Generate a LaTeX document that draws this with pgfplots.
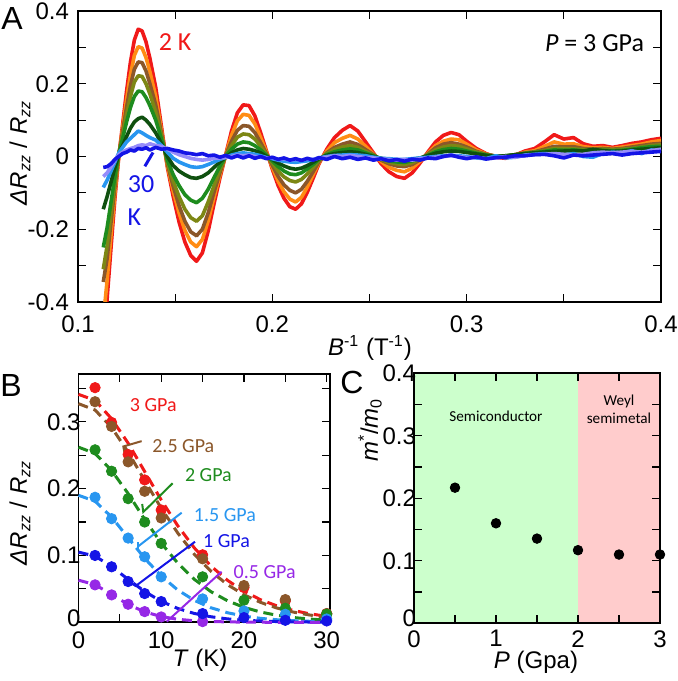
\documentclass[border=0pt]{standalone}
\usepackage{fontspec}
\setmainfont{Liberation Sans}
\newfontfamily\calfont{Carlito}
\usepackage{pgfplots}
\usepackage{pgfplotstable}
\pgfplotsset{compat=1.18}

\definecolor{cR}{RGB}{240,25,25}
\definecolor{cO}{RGB}{255,140,20}
\definecolor{cBr}{RGB}{139,87,42}
\definecolor{cOl}{RGB}{125,135,20}
\definecolor{cG}{RGB}{30,140,30}
\definecolor{cDG}{RGB}{15,80,15}
\definecolor{cLB}{RGB}{40,150,240}
\definecolor{cLv}{RGB}{150,140,250}
\definecolor{cBl}{RGB}{20,20,230}
\definecolor{cPu}{RGB}{150,40,230}
\definecolor{fillG}{RGB}{204,255,204}
\definecolor{fillR}{RGB}{255,204,204}

\pgfplotstableread{
x R O Br Ol G DG LB Lv Bl
0.113 -0.52 -0.45 -0.345 -0.31 -0.25 -0.145 -0.085 -0.055 -0.030
0.115 -0.39 -0.34 -0.28 -0.245 -0.195 -0.11 -0.065 -0.045 -0.028
0.117 -0.25 -0.215 -0.18 -0.155 -0.125 -0.07 -0.04 -0.028 -0.020
0.119 -0.115 -0.10 -0.083 -0.07 -0.055 -0.03 -0.015 -0.01 -0.008
0.121 0.00 0.002 0.004 0.006 0.008 0.006 0.01 0.005 0.000
0.123 0.09 0.08 0.07 0.06 0.05 0.03 0.025 0.012 0.008
0.125 0.18 0.157 0.135 0.115 0.095 0.055 0.04 0.018 0.012
0.127 0.26 0.225 0.195 0.165 0.135 0.078 0.05 0.022 0.018
0.129 0.32 0.278 0.24 0.205 0.165 0.095 0.06 0.025 0.015
0.131 0.350 0.302 0.26 0.222 0.18 0.104 0.07 0.03 0.022
0.133 0.345 0.298 0.258 0.22 0.178 0.108 0.065 0.032 0.02
0.135 0.315 0.272 0.235 0.2 0.162 0.1 0.058 0.03 0.024
0.137 0.27 0.233 0.2 0.172 0.14 0.088 0.052 0.035 0.018
0.140 0.19 0.165 0.142 0.122 0.1 0.065 0.045 0.03 0.025
0.143 0.08 0.07 0.062 0.055 0.047 0.035 0.03 0.028 0.02
0.146 -0.03 -0.026 -0.02 -0.015 -0.01 0.0 0.012 0.02 0.022
0.149 -0.11 -0.095 -0.082 -0.068 -0.05 -0.025 -0.005 0.012 0.018
0.152 -0.18 -0.155 -0.135 -0.11 -0.08 -0.04 -0.015 0.005 0.015
0.155 -0.235 -0.203 -0.178 -0.145 -0.105 -0.05 -0.022 0.0 0.01
0.158 -0.272 -0.235 -0.207 -0.168 -0.12 -0.058 -0.028 -0.005 0.008
0.161 -0.288 -0.248 -0.218 -0.178 -0.127 -0.06 -0.03 -0.008 0.005
0.164 -0.265 -0.228 -0.2 -0.163 -0.115 -0.055 -0.028 -0.01 0.008
0.167 -0.205 -0.177 -0.155 -0.125 -0.09 -0.045 -0.022 -0.008 0.002
0.170 -0.13 -0.112 -0.098 -0.08 -0.058 -0.03 -0.015 -0.005 0.004
0.173 -0.06 -0.052 -0.045 -0.037 -0.027 -0.015 -0.008 -0.004 -0.002
0.176 0.005 0.004 0.003 0.002 0.001 -0.002 -0.002 -0.003 0.003
0.179 0.07 0.058 0.042 0.03 0.02 0.01 0.004 0.0 -0.004
0.182 0.12 0.098 0.072 0.053 0.034 0.018 0.008 0.004 0.002
0.185 0.142 0.116 0.085 0.062 0.04 0.022 0.01 0.002 -0.004
0.188 0.140 0.113 0.083 0.06 0.038 0.02 0.008 0.004 0.002
0.191 0.112 0.09 0.066 0.048 0.03 0.016 0.006 0.0 -0.005
0.194 0.065 0.052 0.038 0.028 0.018 0.01 0.002 -0.002 0.0
0.197 0.015 0.012 0.008 0.005 0.003 0.0 -0.003 -0.004 -0.006
0.200 -0.035 -0.03 -0.024 -0.018 -0.012 -0.008 -0.006 -0.003 -0.002
0.203 -0.08 -0.068 -0.055 -0.04 -0.028 -0.018 -0.01 -0.008 -0.008
0.206 -0.115 -0.097 -0.078 -0.056 -0.04 -0.026 -0.013 -0.006 -0.004
0.209 -0.138 -0.117 -0.093 -0.066 -0.048 -0.032 -0.015 -0.01 -0.01
0.212 -0.145 -0.125 -0.1 -0.07 -0.05 -0.035 -0.016 -0.008 -0.006
0.215 -0.13 -0.112 -0.09 -0.063 -0.045 -0.032 -0.014 -0.01 -0.011
0.218 -0.098 -0.084 -0.068 -0.048 -0.034 -0.025 -0.012 -0.006 -0.005
0.221 -0.06 -0.05 -0.042 -0.03 -0.022 -0.016 -0.008 -0.008 -0.01
0.224 -0.02 -0.017 -0.014 -0.01 -0.008 -0.006 -0.004 -0.004 -0.003
0.228 0.02 0.015 0.01 0.008 0.005 0.003 0.0 -0.002 -0.008
0.232 0.052 0.038 0.025 0.019 0.013 0.008 0.003 0.002 0.0
0.236 0.072 0.05 0.034 0.026 0.018 0.011 0.004 0.0 -0.006
0.240 0.085 0.058 0.04 0.03 0.021 0.013 0.005 0.003 -0.002
0.244 0.07 0.048 0.033 0.025 0.018 0.011 0.004 0.0 -0.008
0.248 0.04 0.028 0.019 0.014 0.01 0.006 0.002 -0.003 -0.004
0.252 0.01 0.007 0.005 0.003 0.002 0.0 -0.002 -0.004 -0.01
0.256 -0.02 -0.014 -0.01 -0.008 -0.006 -0.005 -0.005 -0.007 -0.006
0.260 -0.042 -0.03 -0.02 -0.016 -0.012 -0.008 -0.006 -0.008 -0.012
0.264 -0.055 -0.038 -0.026 -0.02 -0.015 -0.01 -0.008 -0.01 -0.008
0.268 -0.06 -0.042 -0.028 -0.022 -0.016 -0.011 -0.008 -0.008 -0.013
0.272 -0.045 -0.032 -0.022 -0.017 -0.012 -0.008 -0.006 -0.01 -0.007
0.276 -0.018 -0.013 -0.009 -0.007 -0.005 -0.004 -0.004 -0.006 -0.01
0.280 0.012 0.009 0.007 0.005 0.003 0.002 -0.002 -0.004 -0.004
0.284 0.04 0.03 0.024 0.018 0.013 0.009 0.0 -0.002 -0.006
0.288 0.058 0.042 0.034 0.026 0.019 0.013 0.002 0.0 0.0
0.292 0.066 0.048 0.038 0.03 0.022 0.015 0.003 0.002 0.004
0.296 0.06 0.046 0.034 0.028 0.02 0.014 0.002 0.0 -0.002
0.300 0.042 0.034 0.026 0.021 0.015 0.011 0.0 -0.003 -0.006
0.305 0.022 0.018 0.014 0.012 0.009 0.007 -0.004 -0.002 -0.001
0.310 0.008 0.007 0.006 0.005 0.004 0.003 -0.006 -0.006 -0.007
0.315 -0.002 0.0 0.001 0.001 0.0 0.0 0.002 -0.004 -0.003
0.320 -0.005 -0.002 0.0 0.001 0.002 0.002 -0.004 0.0 -0.002
0.325 0.004 0.004 0.005 0.005 0.004 0.005 -0.002 -0.002 0.002
0.330 0.015 0.012 0.01 0.009 0.008 0.008 0.004 0.003 0.002
0.335 0.022 0.016 0.013 0.012 0.011 0.01 0.006 0.005 0.005
0.340 0.04 0.028 0.02 0.016 0.014 0.012 0.008 0.006 0.006
0.345 0.06 0.04 0.028 0.022 0.018 0.014 0.006 0.008 0.002
0.350 0.048 0.034 0.026 0.022 0.017 0.015 0.004 0.006 -0.004
0.355 0.052 0.035 0.027 0.021 0.018 0.016 0.008 0.004 0.004
0.360 0.035 0.027 0.022 0.019 0.016 0.015 0.0 0.006 0.002
0.365 0.028 0.024 0.02 0.018 0.016 0.02 -0.002 0.01 0.004
0.370 0.03 0.025 0.022 0.02 0.017 0.016 0.008 0.012 0.006
0.375 0.025 0.022 0.02 0.018 0.016 0.014 0.012 0.01 0.008
0.380 0.03 0.026 0.022 0.02 0.017 0.015 0.01 0.012 0.004
0.385 0.036 0.03 0.026 0.022 0.02 0.018 0.016 0.014 0.008
0.390 0.04 0.034 0.03 0.026 0.024 0.02 0.008 0.012 0.01
0.395 0.046 0.04 0.034 0.03 0.027 0.022 0.018 0.016 0.012
0.400 0.05 0.044 0.036 0.032 0.028 0.024 0.014 0.02 0.014
}\dataA

\pgfplotstableread{
T R Br G LB Bl Pu
0 0.341 0.327 0.262 0.190 0.105 0.063
2 0.332 0.3176 0.2526 0.1811 0.0990 0.0563
4 0.3045 0.2915 0.2270 0.1575 0.0835 0.0417
6 0.268 0.2546 0.1926 0.1265 0.0642 0.0267
8 0.2255 0.2121 0.1538 0.0957 0.0461 0.0156
10 0.183 0.1707 0.1185 0.0693 0.0314 0.0086
12 0.1444 0.1335 0.0885 0.0483 0.0207 0.0045
14 0.1113 0.1018 0.0643 0.0328 0.0132 0.0023
16 0.0843 0.0764 0.0459 0.0218 0.0083 0.0012
18 0.0629 0.0564 0.0323 0.0143 0.0051 0.0006
20 0.0464 0.0412 0.0224 0.0093 0.0031 0.0003
22 0.0338 0.0298 0.0154 0.0059 0.0019 0.0001
24 0.0245 0.0213 0.0105 0.0038 0.0011 0.0
26 0.0176 0.0152 0.0071 0.0024 0.0007 0.0
28 0.0126 0.0108 0.0048 0.0015 0.0004 0.0
30 0.0090 0.0076 0.0032 0.0009 0.0002 0.0
}\fitB

\pgfplotsset{
  myaxis/.style={
    scale only axis,
    anchor=south west,
    tick align=inside,
    major tick length=4pt,
    minor tick length=4pt,
    tick style={black, line width=0.6pt},
    axis line style={line width=0.8pt},
    tick label style={font=\fontsize{12}{13}\selectfont},
    /pgf/number format/assume math mode=true,
  }
}

\begin{document}
\begin{tikzpicture}
\useasboundingbox (0,0) rectangle (338.5pt,340.5pt);

% ---------------- Panel A
\begin{axis}[myaxis,
  at={(39pt,189.5pt)}, width=291.5pt, height=145.5pt,
  xmin=0.1, xmax=0.4, ymin=-0.4, ymax=0.4,
  xtick={0.1,0.2,0.3,0.4}, xticklabels={0.1,0.2,0.3,0.4},
  minor xtick={0.15,0.25,0.35},
  ytick={-0.4,-0.2,0,0.2,0.4}, yticklabels={-0.4,-0.2,0,0.2,0.4},
  minor ytick={-0.3,-0.1,0.1,0.3},
  xticklabel style={yshift=-3.5pt},
  yticklabel style={xshift=-1pt},
  every axis plot/.append style={line width=1.8pt, line join=round, no markers},
]
\addplot[cR] table[x=x,y=R] {\dataA};
\addplot[cO] table[x=x,y=O] {\dataA};
\addplot[cBr] table[x=x,y=Br] {\dataA};
\addplot[cOl] table[x=x,y=Ol] {\dataA};
\addplot[cG] table[x=x,y=G] {\dataA};
\addplot[cDG] table[x=x,y=DG] {\dataA};
\addplot[cLB] table[x=x,y=LB] {\dataA};
\addplot[cLv] table[x=x,y=Lv] {\dataA};
\addplot[cBl] table[x=x,y=Bl] {\dataA};
\begin{scope}[font=\calfont\fontsize{13}{14}\selectfont]
\node[text=cR] at (axis cs:0.150,0.315) {2 K};
\node[text=cBl] at (axis cs:0.1325,-0.077) {30};
\node[text=cBl] at (axis cs:0.129,-0.167) {K};
\node at (axis cs:0.3658,0.312) {\textit{P} = 3 GPa};
\end{scope}
\draw[cBl, line width=1.5pt] (axis cs:0.1344,-0.027) -- (axis cs:0.1386,0.011);
\end{axis}

% ---------------- Panel B
\begin{axis}[myaxis,
  at={(39.25pt,29.35pt)}, width=125.75pt, height=124pt,
  xmin=0, xmax=30.4, ymin=0, ymax=0.371,
  xtick={0,10,20,30}, xticklabels={0,10,20,30},
  minor xtick={5,15,25},
  ytick={0,0.1,0.2,0.3}, yticklabels={\raisebox{4pt}{0},0.1,0.2,0.3},
  minor ytick={0.05,0.15,0.25,0.35},
  xticklabel style={yshift=-1pt},
  yticklabel style={xshift=4.5pt},
  clip=false,
  dashfit/.style={line width=1.5pt, dash pattern=on 5pt off 3pt, no markers},
  dots/.style={only marks, mark=*, mark size=2.6pt},
]
\addplot[cR, dashfit] table[x=T,y=R] {\fitB};
\addplot[cBr, dashfit] table[x=T,y=Br] {\fitB};
\addplot[cG, dashfit] table[x=T,y=G] {\fitB};
\addplot[cLB, dashfit] table[x=T,y=LB] {\fitB};
\addplot[cBl, dashfit] table[x=T,y=Bl] {\fitB};
\addplot[cPu, dashfit] table[x=T,y=Pu] {\fitB};
\addplot[cPu, dots] coordinates {(2,0.056) (4,0.041) (6,0.027) (8,0.016) (10,0.008) (15,0.001)};
\addplot[cR, dots] coordinates {(2,0.351) (4,0.299) (6,0.251) (8,0.213) (10,0.168) (15,0.101) (20,0.052) (25,0.032) (30,0.013)};
\addplot[cBr, dots] coordinates {(2,0.330) (4,0.293) (6,0.240) (8,0.196) (10,0.156) (15,0.095) (20,0.055) (25,0.034) (30,0.013)};
\addplot[cG, dots] coordinates {(2,0.258) (4,0.226) (6,0.185) (8,0.150) (10,0.118) (15,0.068) (20,0.033) (25,0.021) (30,0.012)};
\addplot[cLB, dots] coordinates {(2,0.187) (4,0.155) (6,0.126) (8,0.098) (10,0.068) (15,0.035) (20,0.017) (25,0.012) (30,0.005)};
\addplot[cBl, dots] coordinates {(2,0.100) (4,0.083) (6,0.061) (8,0.043) (10,0.031) (15,0.013) (20,0.007) (25,0.003) (30,0.002)};
% leaders
\draw[cBr, line width=1pt] (axis cs:7.63,0.271) -- (axis cs:5.42,0.263) -- (axis cs:5.55,0.254);
\draw[cG, line width=1pt] (axis cs:11.38,0.208) -- (axis cs:7.83,0.165) -- (axis cs:7.7,0.177);
\draw[cLB, line width=1pt] (axis cs:12.47,0.164) -- (axis cs:7.15,0.113);
\draw[cLB, line width=1pt] (axis cs:7.15,0.106) -- (axis cs:7.15,0.120);
\draw[cBl, line width=1pt] (axis cs:14.08,0.1205) -- (axis cs:6.91,0.0543) -- (axis cs:5.94,0.0618);
\draw[cPu, line width=1pt] (axis cs:17.3,0.0757) -- (axis cs:10.66,0.001);
\begin{scope}[font=\calfont\fontsize{10}{11}\selectfont]
\node[text=cR] at (axis cs:9.04,0.325) {3 GPa};
\node[text=cBr] at (axis cs:12.67,0.264) {2.5 GPa};
\node[text=cG] at (axis cs:15.7,0.220) {2 GPa};
\node[text=cLB] at (axis cs:17.7,0.160) {1.5 GPa};
\node[text=cBl] at (axis cs:17.9,0.1216) {1 GPa};
\node[text=cPu] at (axis cs:22.5,0.0757) {0.5 GPa};
\end{scope}
\end{axis}

% ---------------- Panel C
\begin{axis}[myaxis,
  at={(207pt,28.85pt)}, width=123pt, height=125pt,
  xmin=0, xmax=3, ymin=0, ymax=0.4,
  xtick={0,1,2,3}, xticklabels={0,1,2,3},
  minor xtick={0.5,1.5,2.5},
  ytick={0,0.1,0.2,0.3,0.4}, yticklabels={\raisebox{5pt}{0},0.1,0.2,0.3,0.4},
  minor ytick={0.05,0.15,0.25,0.35},
  xticklabel style={yshift=0pt},
  yticklabel style={xshift=4.5pt},
  axis on top,
  clip=false,
]
\fill[fillG] (axis cs:0,0) rectangle (axis cs:2,0.4);
\fill[fillR] (axis cs:2,0) rectangle (axis cs:3,0.4);
\addplot[black, only marks, mark=*, mark size=2.4pt] coordinates {(0.5,0.217) (1,0.160) (1.5,0.1355) (2,0.117) (2.5,0.110) (3,0.110)};
\begin{scope}[font=\calfont\fontsize{7.6}{8}\selectfont]
\node at (axis cs:1.0,0.332) {Semiconductor};
\node at (axis cs:2.5,0.355) {Weyl};
\node at (axis cs:2.5,0.328) {semimetal};
\end{scope}
\end{axis}

% ---------------- labels
\node[font=\fontsize{16}{17}\selectfont] at (6pt,331.5pt) {A};
\node[font=\fontsize{16}{17}\selectfont] at (5.5pt,148pt) {B};
\node[font=\fontsize{16}{17}\selectfont] at (176pt,149.5pt) {C};
\node[font=\fontsize{12}{13}\selectfont, rotate=90] at (10pt,264pt) {\textit{ΔR}\textsubscript{\textit{zz}} / \textit{R}\textsubscript{\textit{zz}}};
\node[font=\fontsize{12}{13}\selectfont] at (185pt,166.5pt) {\textit{B}\textsuperscript{-1} (T\textsuperscript{-1})};
\node[font=\fontsize{12}{13}\selectfont, rotate=90] at (10pt,84pt) {\textit{ΔR}\textsubscript{\textit{zz}} / \textit{R}\textsubscript{\textit{zz}}};
\node[font=\fontsize{12}{13}\selectfont] at (100pt,10.5pt) {\textit{T} (K)};
\node[font=\fontsize{12}{13}\selectfont] at (268pt,9.5pt) {\textit{P} (Gpa)};
\node[font=\fontsize{12}{13}\selectfont, rotate=90] at (185pt,125.5pt) {\textit{m}\textsuperscript{*}/\textit{m}\textsubscript{0}};
\end{tikzpicture}
\end{document}
